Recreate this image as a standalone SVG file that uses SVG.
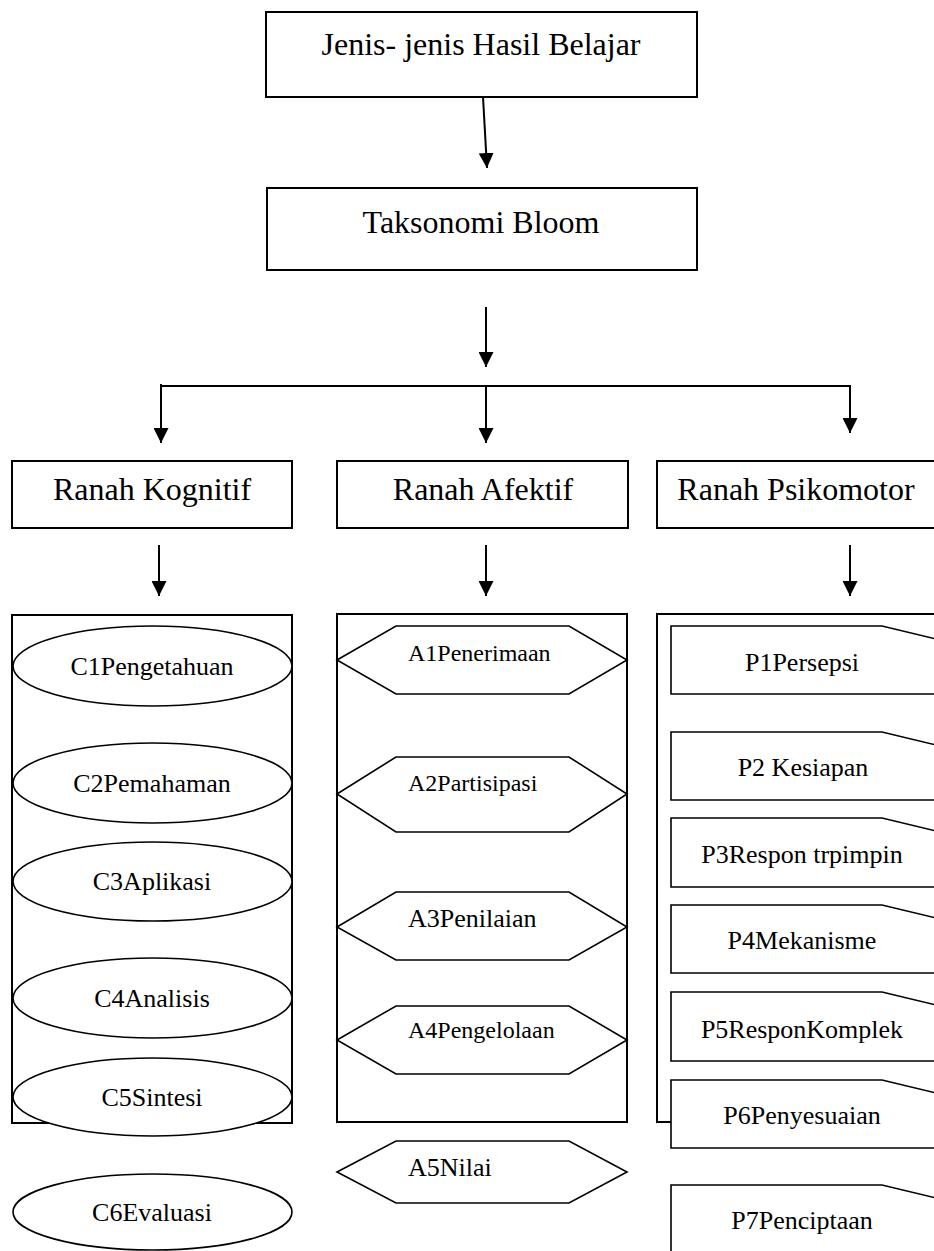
<svg xmlns="http://www.w3.org/2000/svg" width="934" height="1251" viewBox="0 0 934 1251">
<style>
.box{fill:#fff;stroke:#000;stroke-width:2}
.shape{fill:#fff;stroke:#000;stroke-width:1.6}
.big{font-size:32px;text-anchor:middle}
.mid{font-size:26px;text-anchor:middle}
.hx{font-size:24px}
.con{stroke:#000;stroke-width:2;fill:none}
</style>
<defs>
<marker id="ah" markerUnits="userSpaceOnUse" markerWidth="15" markerHeight="15" refX="15" refY="7.5" orient="auto">
<path d="M0,0 L15,7.5 L0,15 z" fill="#000"/>
</marker>
</defs>
<rect width="934" height="1251" fill="#fff"/>

<g id="connectors">
<line class="con" x1="483" y1="97" x2="487" y2="168" marker-end="url(#ah)"/>
<line class="con" x1="486" y1="307" x2="486" y2="367" marker-end="url(#ah)"/>
<polyline class="con" points="161,384 161,386 850,386 850,388"/>
<line class="con" x1="161" y1="386" x2="161" y2="443" marker-end="url(#ah)"/>
<line class="con" x1="486" y1="386" x2="486" y2="443" marker-end="url(#ah)"/>
<line class="con" x1="850" y1="386" x2="850" y2="433" marker-end="url(#ah)"/>
<line class="con" x1="159" y1="545" x2="159" y2="596" marker-end="url(#ah)"/>
<line class="con" x1="486" y1="545" x2="486" y2="596" marker-end="url(#ah)"/>
<line class="con" x1="850" y1="545" x2="850" y2="596" marker-end="url(#ah)"/>
</g>

<g font-family="Liberation Serif, Times New Roman, DejaVu Serif, serif" fill="#000">
<g id="jenis">
<rect class="box" x="266" y="12" width="431" height="85"/>
<text class="big" x="481" y="55">Jenis- jenis Hasil Belajar</text>
</g>
<g id="taksonomi">
<rect class="box" x="267" y="188" width="430" height="82"/>
<text class="big" x="481" y="233">Taksonomi Bloom</text>
</g>

<g id="ranah-kognitif">
<rect class="box" x="12" y="461" width="280" height="67"/>
<text class="big" x="152" y="500">Ranah Kognitif</text>
</g>
<g id="ranah-afektif">
<rect class="box" x="337" y="461" width="291" height="67"/>
<text class="big" x="483" y="500">Ranah Afektif</text>
</g>
<g id="ranah-psikomotor">
<rect class="box" x="657" y="461" width="290" height="67"/>
<text class="big" x="796" y="500">Ranah Psikomotor</text>
</g>

<g id="kognitif-container">
<rect class="box" x="12" y="615" width="280" height="508"/>
</g>
<g id="c1"><ellipse class="shape" cx="152.5" cy="666" rx="139.5" ry="40"/><text class="mid" x="152" y="675">C1Pengetahuan</text></g>
<g id="c2"><ellipse class="shape" cx="152.5" cy="783" rx="139.5" ry="40"/><text class="mid" x="152" y="792">C2Pemahaman</text></g>
<g id="c3"><ellipse class="shape" cx="152.5" cy="881.5" rx="139.5" ry="39.5"/><text class="mid" x="152" y="890">C3Aplikasi</text></g>
<g id="c4"><ellipse class="shape" cx="152.5" cy="998" rx="139.5" ry="40"/><text class="mid" x="152" y="1007">C4Analisis</text></g>
<g id="c5"><ellipse class="shape" cx="152.5" cy="1097" rx="139.5" ry="39"/><text class="mid" x="152" y="1106">C5Sintesi</text></g>
<g id="c6"><ellipse class="shape" cx="152.5" cy="1212" rx="139.5" ry="38"/><text class="mid" x="152" y="1221">C6Evaluasi</text></g>

<g id="afektif-container">
<rect class="box" x="337" y="614" width="290" height="508"/>
</g>
<g id="a1"><polygon class="shape" points="337,660 396,626 569,626 627,660 569,694 396,694"/><text class="hx" x="408" y="661">A1Penerimaan</text></g>
<g id="a2"><polygon class="shape" points="337,794 396,757 569,757 627,794 569,832 396,832"/><text class="hx" x="408" y="791">A2Partisipasi</text></g>
<g id="a3"><polygon class="shape" points="337,927 396,892 569,892 627,927 569,960 396,960"/><text font-size="26" x="408" y="927">A3Penilaian</text></g>
<g id="a4"><polygon class="shape" points="337,1040 396,1006 569,1006 627,1040 569,1074 396,1074"/><text class="hx" x="408" y="1038">A4Pengelolaan</text></g>
<g id="a5"><polygon class="shape" points="337,1172 396,1141 569,1141 627,1172 569,1203 396,1203"/><text font-size="26" x="408" y="1176">A5Nilai</text></g>

<g id="psikomotor-container">
<polyline class="box" points="671,1122 657,1122 657,614 940,614"/>
</g>
<g id="p1"><polygon class="shape" points="671,626 882,626 940,640 940,694 671,694"/><text class="mid" x="802" y="671">P1Persepsi</text></g>
<g id="p2"><polygon class="shape" points="671,732 882,732 940,746 940,800 671,800"/><text class="mid" x="803" y="776">P2 Kesiapan</text></g>
<g id="p3"><polygon class="shape" points="671,818 882,818 940,832 940,887 671,887"/><text class="mid" x="802" y="863">P3Respon trpimpin</text></g>
<g id="p4"><polygon class="shape" points="671,905 882,905 940,919 940,973 671,973"/><text class="mid" x="802" y="949">P4Mekanisme</text></g>
<g id="p5"><polygon class="shape" points="671,992 882,992 940,1006 940,1061 671,1061"/><text class="mid" x="802" y="1038">P5ResponKomplek</text></g>
<g id="p6"><polygon class="shape" points="671,1080 882,1080 940,1094 940,1148 671,1148"/><text class="mid" x="802" y="1124">P6Penyesuaian</text></g>
<g id="p7"><polygon class="shape" points="671,1185 882,1185 940,1199 940,1260 671,1260"/><text class="mid" x="802" y="1229">P7Penciptaan</text></g>
</g>
</svg>
